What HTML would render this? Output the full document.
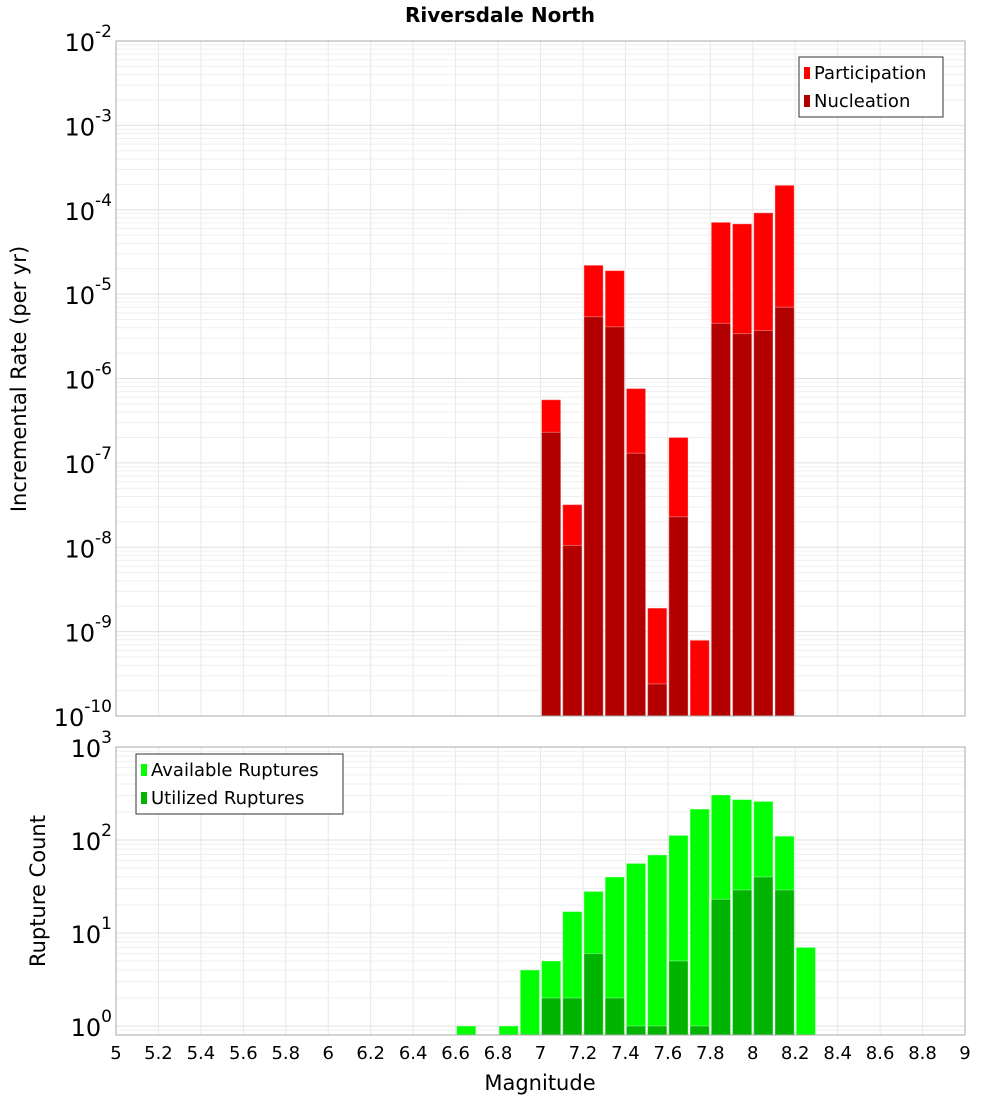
<!DOCTYPE html>
<html><head><meta charset="utf-8"><style>
body{margin:0;background:#fff;}
svg text{font-family:"DejaVu Sans","Liberation Sans",sans-serif;}
</style></head><body>
<svg id="c" width="1000" height="1100" xmlns="http://www.w3.org/2000/svg"></svg>
<script>
const bins=[7.05,7.15,7.25,7.35,7.45,7.55,7.65,7.75,7.85,7.95,8.05,8.15];
const participation=[5.6e-7,3.2e-8,2.2e-5,1.9e-5,7.6e-7,1.9e-9,2.0e-7,7.9e-10,7.1e-5,6.8e-5,9.2e-5,1.95e-4];
const nucleation=[2.3e-7,1.05e-8,5.4e-6,4.1e-6,1.3e-7,2.4e-10,2.3e-8,null,4.5e-6,3.4e-6,3.7e-6,7.0e-6];
const countBins=[6.65,6.85,6.95,7.05,7.15,7.25,7.35,7.45,7.55,7.65,7.75,7.85,7.95,8.05,8.15,8.25];
const available=[1,1,4,5,17,28,40,56,69,112,215,305,272,260,110,7];
const utilized=[0,0,0,2,2,6,2,1,1,5,1,23,29,40,29,0];
const xTicks=[5,5.2,5.4,5.6,5.8,6,6.2,6.4,6.6,6.8,7,7.2,7.4,7.6,7.8,8,8.2,8.4,8.6,8.8,9];
const topExp=[-2,-3,-4,-5,-6,-7,-8,-9,-10];
const botExp=[3,2,1,0];

const NS="http://www.w3.org/2000/svg";
const svg=document.getElementById('c');
function el(t,a,p){const e=document.createElementNS(NS,t);for(const k in a)e.setAttribute(k,a[k]);(p||svg).appendChild(e);return e;}
const X0=116,X1=965;
const xs=m=>X0+(m-5)/4*(X1-X0);
const T0=41,T1=716;
const yTop=v=>T0+(-2-Math.log10(v))/8*(T1-T0);
const B0=747,B1=1035,BD=93;
const yBot=v=>B0+(3-Math.log10(v))*BD;

function grid(y0,y1,decFn,dmin,dmax){
  for(let m=5;m<=9.001;m+=0.2){const x=xs(m);const l=el('line',{x1:x,x2:x,y1:y0,y2:y1,stroke:'#e8e8e8','stroke-width':1});}
  for(let d=dmin;d<=dmax;d++)for(let k=1;k<10;k++){const y=decFn(k*Math.pow(10,d));if(y<y0||y>y1)continue;const l=el('line',{x1:X0,x2:X1,y1:y,y2:y,stroke:k==1?'#e0e0e0':'#efefef','stroke-width':1});}
}
grid(T0,T1,yTop,-11,-2);
grid(B0,B1,yBot,-1,3);

const w=xs(5.1)-xs(5)-2;
function bar(m,v,yf,yBase,fill,name){if(!v)return;const x=xs(m-0.05)+1;const y=yf(v);const r=el('rect',{x:x,y:y,width:w,height:yBase-y,fill:fill,stroke:'rgba(255,255,255,0.35)','stroke-width':1});}
bins.forEach((m,i)=>bar(m,participation[i],yTop,T1,'#ff0000','participation-bar'));
bins.forEach((m,i)=>bar(m,nucleation[i],yTop,T1,'#b20000','nucleation-bar'));
countBins.forEach((m,i)=>bar(m,available[i],yBot,B1,'#00ff00','available-bar'));
countBins.forEach((m,i)=>bar(m,utilized[i],yBot,B1,'#00b400','utilized-bar'));

let f=el('rect',{x:X0,y:T0,width:X1-X0,height:T1-T0,fill:'none',stroke:'#aaa'});
f=el('rect',{x:X0,y:B0,width:X1-X0,height:B1-B0,fill:'none',stroke:'#aaa'});

function expLabel(y,e,name){const t=el('text',{x:112,y:y+10,'text-anchor':'end','font-size':24,fill:'#000'});
 const a=el('tspan',{},t);a.textContent='10';const b=el('tspan',{dy:-14,'font-size':17},t);b.textContent=String(e);}
topExp.forEach(e=>expLabel(yTop(Math.pow(10,e)),e,'y-tick-label'));
botExp.forEach(e=>expLabel(yBot(Math.pow(10,e)),e,'count-tick-label'));
xTicks.forEach(m=>{const t=el('text',{x:xs(m),y:1059,'text-anchor':'middle','font-size':18});t.textContent=String(m);});

function txt(s,a,name){const t=el('text',a);t.textContent=s;return t;}
txt('Riversdale North',{x:500,y:22,'text-anchor':'middle','font-size':20,'font-weight':'bold'},'chart-title');
txt('Magnitude',{x:540,y:1090,'text-anchor':'middle','font-size':21},'x-axis-title');
txt('Incremental Rate (per yr)',{x:0,y:0,'text-anchor':'middle','font-size':21,transform:'translate(26,379) rotate(-90)'},'y-axis-title');
txt('Rupture Count',{x:0,y:0,'text-anchor':'middle','font-size':21,transform:'translate(45,891) rotate(-90)'},'count-axis-title');

function legend(x,y,wd,items,name){const g=el('g',{});
 el('rect',{x:x,y:y,width:wd,height:60,fill:'#fff',stroke:'#333'},g);
 items.forEach((it,i)=>{el('rect',{x:x+5,y:y+10+i*28,width:6,height:12,fill:it[1]},g);const t=el('text',{x:x+15,y:y+22+i*28,'font-size':18},g);t.textContent=it[0];});}
legend(799,57,144,[['Participation','#ff0000'],['Nucleation','#b20000']],'rate-legend');
legend(136,754,207,[['Available Ruptures','#00ff00'],['Utilized Ruptures','#00b400']],'count-legend');
</script>
</body></html>
